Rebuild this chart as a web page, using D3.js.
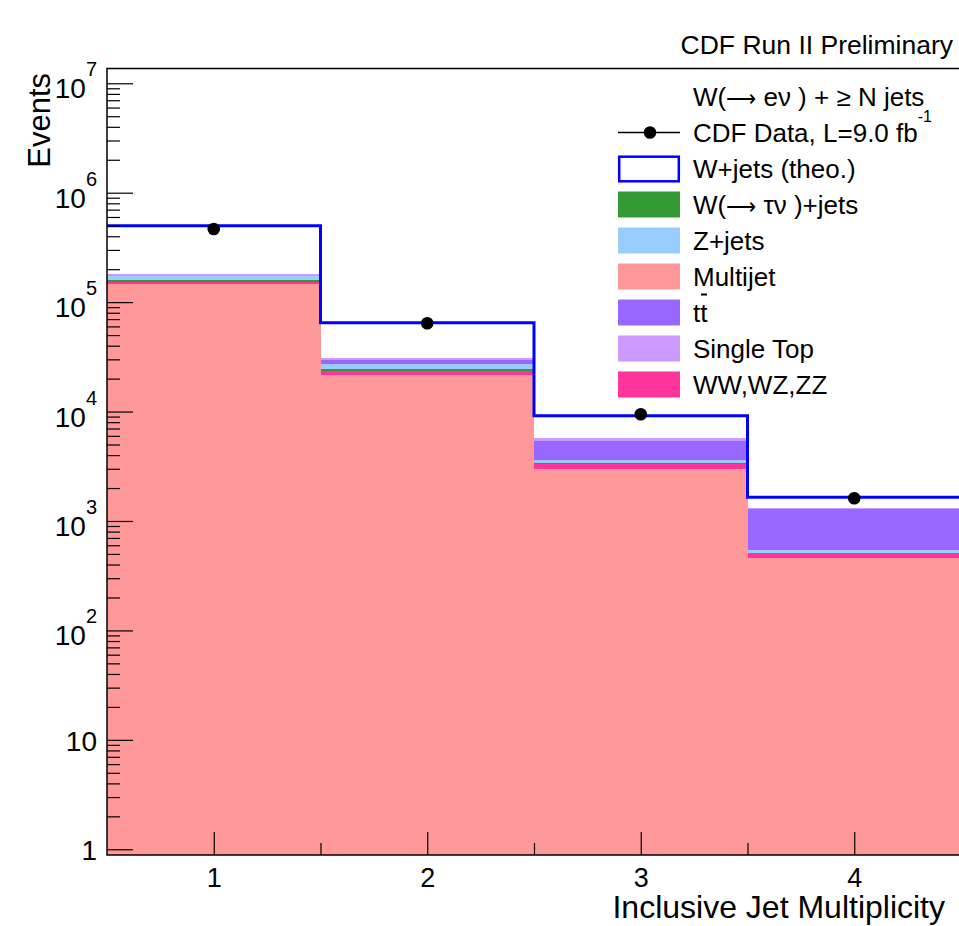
<!DOCTYPE html>
<html>
<head>
<meta charset="utf-8">
<script src="https://cdn.jsdelivr.net/npm/d3@7"></script>
<style>
body { margin: 0; background: #fff; }
text { font-family: "Liberation Sans", Arial, Helvetica, sans-serif; fill: #000; }
</style>
</head>
<body>
<div id="vis"></div>
<script>
// bin contents (events per inclusive jet bin)
var bins      = [1, 2, 3, 4];
var multijet  = [145000, 21500, 3010, 462];
var diboson   = [6200, 2000, 315, 45];
var wtaunu    = [6600, 850, 95, 5];
var zjets     = [16000, 2700, 195, 31];
var ttbar     = [800, 2750, 1810, 745];
var singleTop = [6000, 1250, 280, 35];
var wjets     = [319000, 33800, 3470, 324];
var cdfData   = [466000, 64100, 9440, 1613];

var yMajor = [1, 10, 100, 1e3, 1e4, 1e5, 1e6, 1e7];
var xMajor = [1, 2, 3, 4];
var xMinor = [1.5, 2.5, 3.5];

var width = 959,
    height = 926,
    frameLeft = 107,
    frameRight = 961,
    frameTop = 68.5,
    frameBottom = 855;

var keys = ["multijet", "diboson", "wtaunu", "zjets", "ttbar", "singleTop", "wjets"];
var colors = {
    multijet: "#ff9999",
    diboson: "#ff3399",
    wtaunu: "#339933",
    zjets: "#99ccff",
    ttbar: "#9966ff",
    singleTop: "#cc99ff",
    wjets: "#ffffff"
};

var rows = bins.map(function(b, i) {
    return {
        bin: b,
        multijet: multijet[i],
        diboson: diboson[i],
        wtaunu: wtaunu[i],
        zjets: zjets[i],
        ttbar: ttbar[i],
        singleTop: singleTop[i],
        wjets: wjets[i]
    };
});

var series = d3.stack().keys(keys)(rows);

var yMin = Math.pow(10, -0.0523),
    yMax = Math.pow(10, 7.135);

var x = d3.scaleLinear().domain([0.5, 4.5]).range([frameLeft, frameRight]);
var y = d3.scaleLog().domain([yMin, yMax]).range([frameBottom, frameTop]);

var svg = d3.select("#vis").append("svg")
    .attr("width", width)
    .attr("height", height)
    .style("display", "block");

svg.append("clipPath")
    .attr("id", "frame")
    .append("rect")
    .attr("x", frameLeft)
    .attr("y", frameTop)
    .attr("width", frameRight - frameLeft)
    .attr("height", frameBottom - frameTop);

var plot = svg.append("g").attr("clip-path", "url(#frame)");

plot.selectAll("g.layer")
    .data(series)
    .enter().append("g")
    .attr("class", "layer")
    .attr("fill", function(s) { return colors[s.key]; })
    .attr("shape-rendering", "crispEdges")
    .selectAll("rect")
    .data(function(s) { return s; })
    .enter().append("rect")
    .attr("x", function(d) { return x(d.data.bin - 0.5); })
    .attr("width", function(d) { return x(d.data.bin + 0.5) - x(d.data.bin - 0.5) + 0.5; })
    .attr("y", function(d) { return y(d[1]); })
    .attr("height", function(d) { return y(Math.max(d[0], yMin)) - y(d[1]); });

// W+jets outline on the stack total
var totals = series[series.length - 1];
var steps = totals.map(function(d) { return [d.data.bin - 0.5, d[1]]; });
steps.push([4.5, totals[totals.length - 1][1]]);

plot.append("path")
    .datum(steps)
    .attr("fill", "none")
    .attr("stroke", "#0000ff")
    .attr("stroke-width", 3)
    .attr("d", d3.line()
        .curve(d3.curveStepAfter)
        .x(function(d) { return x(d[0]); })
        .y(function(d) { return y(d[1]); }));

plot.selectAll("circle.data")
    .data(cdfData)
    .enter().append("circle")
    .attr("class", "data")
    .attr("cx", function(d, i) { return x(bins[i]); })
    .attr("cy", function(d) { return y(d); })
    .attr("r", 6.3)
    .attr("fill", "#000");

// y axis: ticks point into the frame
var minor = [];
yMajor.forEach(function(p) {
    for (var m = 2; m <= 9; m++) {
        if (p * m < yMax) minor.push(p * m);
    }
});

svg.append("g")
    .attr("transform", "translate(" + frameLeft + ",0)")
    .call(d3.axisLeft(y).tickValues(minor).tickSizeInner(-13).tickSizeOuter(0).tickFormat(""))
    .call(function(g) { g.select(".domain").remove(); });

var yAxis = svg.append("g")
    .attr("transform", "translate(" + frameLeft + ",0)")
    .call(d3.axisLeft(y).tickValues(yMajor).tickSizeInner(-26).tickSizeOuter(0).tickPadding(10))
    .call(function(g) { g.select(".domain").remove(); });

yAxis.selectAll(".tick text")
    .attr("font-size", 28)
    .attr("font-family", null)
    .each(function(d) {
        var t = d3.select(this).text(""),
            e = Math.round(Math.log10(d));
        if (e < 2) {
            t.attr("dy", "0.37em").text(d);
        } else {
            t.attr("dy", "0.52em");
            t.append("tspan").text("10");
            t.append("tspan").attr("font-size", 20).attr("dy", -22).text(e);
        }
    });

// x axis
svg.append("g")
    .attr("transform", "translate(0," + frameBottom + ")")
    .call(d3.axisBottom(x).tickValues(xMinor).tickSizeInner(-12).tickSizeOuter(0).tickFormat(""))
    .call(function(g) { g.select(".domain").remove(); });

var xAxis = svg.append("g")
    .attr("transform", "translate(0," + frameBottom + ")")
    .call(d3.axisBottom(x).tickValues(xMajor).tickSizeInner(-23).tickSizeOuter(0).tickPadding(13)
        .tickFormat(d3.format("d")))
    .call(function(g) { g.select(".domain").remove(); });

xAxis.selectAll(".tick text")
    .attr("font-size", 27)
    .attr("font-family", null);

svg.selectAll(".tick line").attr("stroke", "#000").attr("stroke-width", 1.2);

// frame
svg.append("rect")
    .attr("x", frameLeft)
    .attr("y", frameTop)
    .attr("width", frameRight - frameLeft)
    .attr("height", frameBottom - frameTop)
    .attr("fill", "none")
    .attr("stroke", "#000")
    .attr("stroke-width", 1.5);

// titles
svg.append("text")
    .attr("x", 953)
    .attr("y", 54)
    .attr("text-anchor", "end")
    .attr("font-size", 26.5)
    .text("CDF Run II Preliminary");

svg.append("text")
    .attr("x", 945)
    .attr("y", 918)
    .attr("text-anchor", "end")
    .attr("font-size", 32)
    .text("Inclusive Jet Multiplicity");

svg.append("text")
    .attr("transform", "translate(50,73)rotate(-90)")
    .attr("text-anchor", "end")
    .attr("font-size", 31)
    .text("Events");

// legend
var legend = svg.append("g").attr("transform", "translate(618,0)");
var rowY = function(i) { return 96.5 + 36 * i; };
var textX = 75;

// W(-> l nu) style label with a slimmer arrow
function decayLabel(sel, lepton, tail) {
    sel.append("tspan").text("W(");
    sel.append("tspan").attr("font-size", 21).text("\u27f6");
    sel.append("tspan").text(" " + lepton + "\u03bd )" + tail);
}

legend.append("text")
    .attr("x", textX)
    .attr("y", rowY(0) + 9)
    .attr("font-size", 26)
    .call(decayLabel, "e", " + \u2265 N jets");

legend.append("line")
    .attr("x1", 0).attr("x2", 62)
    .attr("y1", rowY(1)).attr("y2", rowY(1))
    .attr("stroke", "#000")
    .attr("stroke-width", 1.5);
legend.append("circle")
    .attr("cx", 32).attr("cy", rowY(1))
    .attr("r", 6.3);
var dataLabel = legend.append("text")
    .attr("x", textX)
    .attr("y", rowY(1) + 9)
    .attr("font-size", 26)
    .text("CDF Data, L=9.0 fb");
dataLabel.append("tspan")
    .attr("font-size", 16)
    .attr("dy", -20)
    .text("-1");

var entries = [
    {key: "wjets", label: "W+jets (theo.)"},
    {key: "wtaunu", label: null},
    {key: "zjets", label: "Z+jets"},
    {key: "multijet", label: "Multijet"},
    {key: "ttbar", label: "tt"},
    {key: "singleTop", label: "Single Top"},
    {key: "diboson", label: "WW,WZ,ZZ"}
];

var items = legend.selectAll("g.item")
    .data(entries)
    .enter().append("g")
    .attr("class", "item")
    .attr("transform", function(d, i) { return "translate(0," + rowY(i + 2) + ")"; });

items.append("rect")
    .attr("x", function(d) { return d.key === "wjets" ? 1.2 : 0; })
    .attr("y", function(d) { return d.key === "wjets" ? -11.8 : -13; })
    .attr("width", function(d) { return d.key === "wjets" ? 59.6 : 62; })
    .attr("height", function(d) { return d.key === "wjets" ? 24.6 : 26; })
    .attr("fill", function(d) { return colors[d.key]; })
    .attr("stroke", function(d) { return d.key === "wjets" ? "#0000ff" : "none"; })
    .attr("stroke-width", 2.5);

items.append("text")
    .attr("x", textX)
    .attr("y", 9)
    .attr("font-size", 26)
    .each(function(d) {
        var t = d3.select(this);
        if (d.label === null) t.call(decayLabel, "\u03c4", "+jets");
        else t.text(d.label);
    });

// bar over the second t of tt
items.filter(function(d) { return d.key === "ttbar"; })
    .append("line")
    .attr("x1", textX + 8).attr("x2", textX + 14)
    .attr("y1", -18).attr("y2", -18)
    .attr("stroke", "#000")
    .attr("stroke-width", 2);
</script>
</body>
</html>
